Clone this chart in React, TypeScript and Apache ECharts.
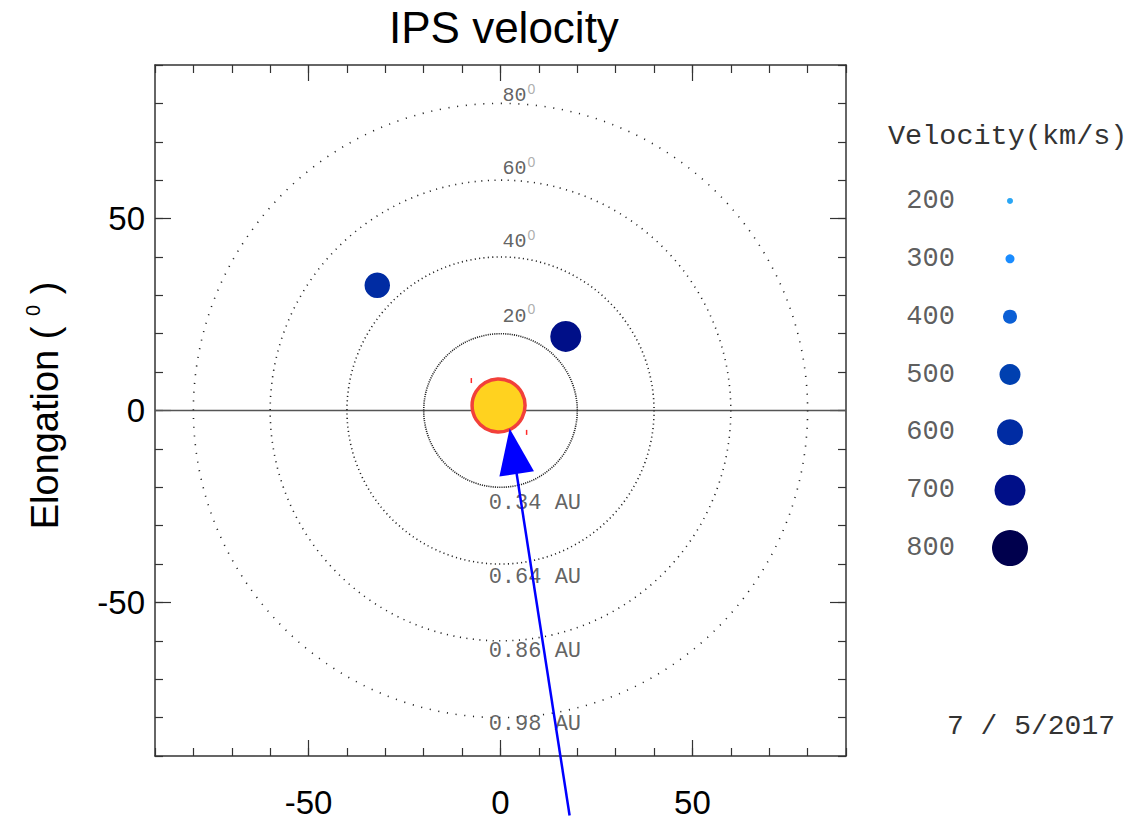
import React, { useEffect, useRef } from 'react';
import * as echarts from 'echarts';

// ---- data ----
const legendVelocities = [200, 300, 400, 500, 600, 700, 800];
const legendSizes = [6, 9, 14, 21, 26, 31, 36];
const legendColors = ['#2aa6f5', '#1a8cff', '#0b5fd5', '#0040b0', '#002ca3', '#000f88', '#00004d'];

const pointX = [-32.1, 17.0];
const pointY = [32.6, 19.3];
const pointVelocity = [590, 700];

const sunPosition = [-0.5, 1.3];
const redMarkX = [-7.6, 6.8];
const redMarkY = [7.8, -5.7];

const circleRadii = [20, 40, 60, 80];
const elongationLabels = ['20', '40', '60', '80'];
const elongationLabelY = [24.5, 44, 63, 82];
const distanceLabels = ['0.34 AU', '0.64 AU', '0.86 AU', '0.98 AU'];
const distanceLabelY = [-24.2, -43.5, -62.8, -81.8];

const xTickLabels = [-50, 0, 50];
const yTickLabels = [-50, 0, 50];

const arrowStart = [18.0, -105.5];
const arrowEnd = [3.3, -10.6];

const dateText = '7 / 5/2017';

// size / colour of a point from its velocity, via the legend scale
function sizeFor(v: number): number {
  if (v <= legendVelocities[0]) return legendSizes[0];
  for (let i = 1; i < legendVelocities.length; i++) {
    if (v <= legendVelocities[i]) {
      const t = (v - legendVelocities[i - 1]) / (legendVelocities[i] - legendVelocities[i - 1]);
      return legendSizes[i - 1] + t * (legendSizes[i] - legendSizes[i - 1]);
    }
  }
  return legendSizes[legendSizes.length - 1];
}
function colorFor(v: number): string {
  let best = 0;
  for (let i = 1; i < legendVelocities.length; i++) {
    if (Math.abs(legendVelocities[i] - v) < Math.abs(legendVelocities[best] - v)) best = i;
  }
  return legendColors[best];
}

const AX = '#333';
const SANS = 'Liberation Sans';
const MONO = 'Liberation Mono';

function minorAxis(position: string, gridIndex = 0) {
  return {
    type: 'value',
    gridIndex,
    position,
    min: -90,
    max: 90,
    interval: 10,
    axisLine: { show: true, onZero: false, lineStyle: { color: AX, width: 1.5 } },
    axisTick: { show: true, inside: true, length: 8, lineStyle: { color: AX, width: 1.2 } },
    axisLabel: { show: false },
    splitLine: { show: false },
  };
}
function majorAxis(position: string, ticks: number[], labels: boolean, extra: any = {}) {
  return {
    type: 'value',
    gridIndex: 0,
    position,
    min: -90,
    max: 90,
    axisLine: { show: false, onZero: false },
    axisTick: { show: true, inside: true, length: 16, customValues: ticks, lineStyle: { color: AX, width: 1.2 } },
    axisLabel: labels
      ? { show: true, customValues: ticks, fontSize: 33, color: '#000', fontFamily: SANS, margin: 30 }
      : { show: false },
    splitLine: { show: false },
    ...extra,
  };
}

export default function App() {
  const ref = useRef<HTMLDivElement>(null);

  useEffect(() => {
    if (!ref.current) return;
    const chart = echarts.init(ref.current, undefined, { renderer: 'svg' });

    const arrowAngle =
      (Math.atan2(arrowStart[0] - arrowEnd[0], arrowEnd[1] - arrowStart[1]) * 180) / Math.PI;

    const xAxes: any[] = [
      minorAxis('bottom'),
      majorAxis('bottom', xTickLabels, true),
      minorAxis('top'),
      majorAxis('top', xTickLabels, false),
      { type: 'value', gridIndex: 1, min: 0, max: 250, show: false },
    ];
    const yLabelAxis = majorAxis('left', yTickLabels, true, {
      name: 'Elongation ( {s|0} )',
      nameLocation: 'middle',
      nameGap: 88,
      nameRotate: 90,
      nameTextStyle: {
        fontSize: 38,
        color: '#000',
        fontFamily: SANS,
        padding: [0, 0, 0, 10],
        rich: { s: { fontSize: 20, color: '#000', fontFamily: SANS, padding: [0, 0, 24, 0] } },
      },
    });
    yLabelAxis.axisLabel = { ...yLabelAxis.axisLabel, margin: 10 };
    const yAxes: any[] = [
      minorAxis('left'),
      yLabelAxis,
      minorAxis('right'),
      majorAxis('right', yTickLabels, false),
      {
        type: 'category',
        gridIndex: 1,
        inverse: true,
        data: legendVelocities.map(String),
        show: false,
      },
    ];

    const option: any = {
      animation: false,
      backgroundColor: '#fff',
      textStyle: { fontFamily: SANS },
      title: [
        {
          text: 'IPS velocity',
          left: 384,
          top: 0,
          textStyle: { fontSize: 44, fontWeight: 'normal', color: '#000', fontFamily: SANS },
        },
        {
          text: 'Velocity(km/s)',
          left: 883,
          top: 117,
          textStyle: { fontSize: 28.5, fontWeight: 'normal', color: '#333', fontFamily: MONO },
        },
        {
          text: dateText,
          left: 942,
          top: 707,
          textStyle: { fontSize: 28, fontWeight: 'normal', color: '#333', fontFamily: MONO },
        },
      ],
      grid: [
        { left: 155, top: 65, width: 691, height: 691, containLabel: false },
        { left: 880, top: 172, width: 250, height: 405, containLabel: false },
      ],
      xAxis: xAxes,
      yAxis: yAxes,
      series: [
        {
          type: 'line',
          xAxisIndex: 0,
          yAxisIndex: 0,
          data: [[-90, 0], [90, 0]],
          symbol: 'none',
          lineStyle: { color: '#555', width: 1.5 },
          z: 1,
          silent: true,
        },
        {
          type: 'custom',
          xAxisIndex: 0,
          yAxisIndex: 0,
          coordinateSystem: 'cartesian2d',
          data: circleRadii.map((r) => [r, 0]),
          encode: { x: 0, y: 1 },
          z: 2,
          silent: true,
          renderItem: (params: any, api: any) => {
            const r = api.value(0);
            const c = api.coord([0, 0]);
            const p = api.coord([r, 0]);
            const R = p[0] - c[0];
            const period = (2 * Math.PI * R) / 220;
            return {
              type: 'circle',
              shape: { cx: c[0], cy: c[1], r: R },
              style: {
                fill: 'none',
                stroke: '#222',
                lineWidth: 1.6,
                lineDash: [1.1, Math.max(period - 1.1, 0.8)],
              },
            };
          },
        },
        {
          type: 'scatter',
          xAxisIndex: 0,
          yAxisIndex: 0,
          data: elongationLabels.map((t, i) => [0.5, elongationLabelY[i]]),
          symbolSize: 0.1,
          itemStyle: { color: 'transparent' },
          z: 3,
          silent: true,
          label: {
            show: true,
            position: 'right',
            distance: 0,
            fontSize: 20,
            color: '#3a3a3a',
            fontFamily: MONO,
            formatter: (p: any) => elongationLabels[p.dataIndex] + '{s|0}',
            rich: { s: { fontSize: 14, color: '#999', fontFamily: SANS, padding: [0, 0, 14, 1] } },
          },
        },
        {
          type: 'scatter',
          xAxisIndex: 0,
          yAxisIndex: 0,
          data: distanceLabels.map((t, i) => [-3.1, distanceLabelY[i]]),
          symbolSize: 0.1,
          itemStyle: { color: 'transparent' },
          z: 3,
          silent: true,
          label: {
            show: true,
            position: 'right',
            distance: 0,
            fontSize: 22,
            color: '#3a3a3a',
            fontFamily: MONO,
            formatter: (p: any) => distanceLabels[p.dataIndex],
          },
        },
        {
          type: 'scatter',
          xAxisIndex: 0,
          yAxisIndex: 0,
          data: pointX.map((x, i) => [x, pointY[i], pointVelocity[i]]),
          symbolSize: (val: any) => sizeFor(val[2]),
          itemStyle: { color: (p: any) => colorFor(p.value[2]), opacity: 1 },
          z: 5,
        },
        {
          type: 'scatter',
          xAxisIndex: 0,
          yAxisIndex: 0,
          data: redMarkX.map((x, i) => [x, redMarkY[i]]),
          symbol: 'rect',
          symbolSize: [1.5, 5],
          itemStyle: { color: '#ff2a2a', opacity: 1 },
          z: 5,
        },
        {
          type: 'scatter',
          xAxisIndex: 0,
          yAxisIndex: 0,
          data: [sunPosition],
          symbolSize: 53,
          itemStyle: { color: '#ffd21f', borderColor: '#f2403a', borderWidth: 3.5, opacity: 1 },
          z: 6,
        },
        {
          type: 'line',
          xAxisIndex: 0,
          yAxisIndex: 0,
          data: [arrowStart, arrowEnd],
          symbol: 'none',
          clip: false,
          lineStyle: { color: '#0000ff', width: 2.5 },
          z: 7,
        },
        {
          type: 'scatter',
          xAxisIndex: 0,
          yAxisIndex: 0,
          data: [arrowEnd],
          symbol: 'triangle',
          symbolSize: [35, 46],
          symbolRotate: arrowAngle,
          itemStyle: { color: '#0000ff', opacity: 1 },
          z: 8,
        },
        // legend: dots
        {
          type: 'scatter',
          xAxisIndex: 4,
          yAxisIndex: 4,
          data: legendVelocities.map((v, i) => [130, i]),
          symbolSize: (val: any, p: any) => legendSizes[p.dataIndex],
          itemStyle: { color: (p: any) => legendColors[p.dataIndex], opacity: 1 },
        },
        // legend: labels
        {
          type: 'scatter',
          xAxisIndex: 4,
          yAxisIndex: 4,
          data: legendVelocities.map((v, i) => [75, i]),
          symbolSize: 0.1,
          itemStyle: { color: 'transparent' },
          silent: true,
          label: {
            show: true,
            position: 'left',
            distance: 0,
            fontSize: 27,
            color: '#333',
            fontFamily: MONO,
            formatter: (p: any) => String(legendVelocities[p.dataIndex]),
          },
        },
      ],
    };

    chart.setOption(option);
    return () => chart.dispose();
  }, []);

  return (
    <div
      ref={ref}
      style={{ position: 'absolute', left: 0, top: 0, width: 1143, height: 821 }}
    />
  );
}
